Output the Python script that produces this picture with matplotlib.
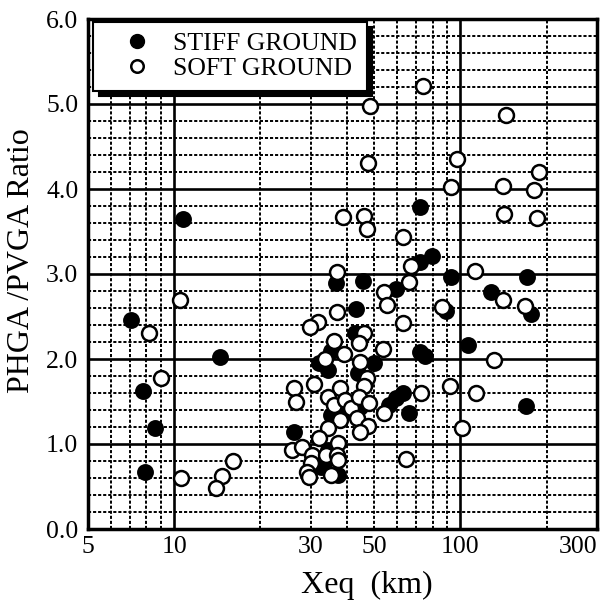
import matplotlib
matplotlib.use("Agg")
import matplotlib.pyplot as plt
from matplotlib.lines import Line2D

plt.rcParams['font.family'] = ['Liberation Serif', 'DejaVu Serif']

stiff_x = [10.7, 7.08, 14.4, 7.8, 8.6, 7.9, 26.2, 72, 79.3, 72, 36.7, 45.6, 93, 171,
           59.4, 128, 89, 177, 43.2, 42.8, 106.7, 72, 75, 35.3, 32, 34.6, 49.8, 44,
           63.2, 59.4, 56.1, 66, 170, 44.7, 43, 35.3, 38.5, 32.5, 37.5, 34.6, 33.3]
stiff_y = [3.65, 2.46, 2.02, 1.62, 1.19, 0.67, 1.14, 3.79, 3.21, 3.14, 2.89, 2.92, 2.96, 2.96,
           2.82, 2.79, 2.56, 2.53, 2.59, 2.31, 2.16, 2.08, 2.04, 2.10, 1.95, 1.87, 1.95, 1.84,
           1.60, 1.54, 1.46, 1.37, 1.45, 1.44, 1.34, 1.34, 1.37, 0.73, 0.64, 0.93, 0.78]

soft_x = [10.5, 8.2, 9.0, 10.6, 16.1, 14.7, 14.0, 26.2, 26.6, 25.8, 74.3, 48.5, 144.6, 47.4,
          96.9, 188, 93, 141, 181, 38.8, 45.9, 47, 142, 185, 62.8, 67, 37, 112, 66, 54,
          141, 55.2, 86, 168, 37.0, 31.8, 29.8, 63, 45.9, 36.1, 44.1, 53.5, 131, 39.1,
          33.6, 44.7, 47, 30.7, 37.9, 45.9, 72.6, 92.2, 113.7, 34.6, 36.1, 39.6, 41.4,
          44.1, 47.8, 54, 43.5, 47.4, 44.7, 38.1, 34.6, 32, 37.5, 101.6, 64.4, 27.9,
          30.2, 33.9, 37, 30, 29, 29.5, 35.3, 37.5]
soft_y = [2.70, 2.31, 1.78, 0.60, 0.80, 0.62, 0.48, 1.66, 1.50, 0.93, 5.21, 4.98, 4.87, 4.31,
          4.35, 4.20, 4.02, 4.04, 3.99, 3.67, 3.68, 3.53, 3.71, 3.66, 3.44, 3.09, 3.02, 3.04, 2.91, 2.79,
          2.70, 2.64, 2.61, 2.62, 2.55, 2.44, 2.38, 2.42, 2.31, 2.21, 2.19, 2.12, 1.99, 2.06,
          2.00, 1.96, 1.78, 1.71, 1.66, 1.68, 1.60, 1.68, 1.60, 1.55, 1.46, 1.52, 1.42,
          1.55, 1.48, 1.36, 1.31, 1.21, 1.14, 1.28, 1.19, 1.07, 1.01, 1.19, 0.82, 0.96,
          0.87, 0.87, 0.87, 0.78, 0.67, 0.61, 0.64, 0.81]

x_ticks = [5, 10, 30, 50, 100, 300]
x_ticklabels = ['5', '10', '30', '50', '100', '300']
y_ticks = [0, 1, 2, 3, 4, 5, 6]
y_ticklabels = ['0.0', '1.0', '2.0', '3.0', '4.0', '5.0', '6.0']
series_labels = ['STIFF GROUND', 'SOFT GROUND']

fig = plt.figure(figsize=(6.04, 6.04), dpi=100)
ax = fig.add_axes([88/604, 75/604, 509/604, 510/604])
ax.set_xscale('log')
ax.set_xlim(5, 300)
ax.set_ylim(0, 6)

# grid
dot = (0, (1.6, 1.0))
for v in [6, 7, 8, 9, 20, 30, 40, 50, 60, 70, 80, 90, 200]:
    ax.axvline(v, color='black', lw=1.4, ls=dot, zorder=1)
for v in [10, 100]:
    ax.axvline(v, color='black', lw=1.9, zorder=1)
for i in range(30):
    v = i * 0.2
    if i % 5 == 0:
        ax.axhline(v, color='black', lw=1.9, zorder=1)
    else:
        ax.axhline(v, color='black', lw=1.4, ls=dot, zorder=1)

ax.scatter(stiff_x, stiff_y, s=120, c='black', edgecolors='black', linewidths=1.2, zorder=3)
ax.scatter(soft_x, soft_y, s=115, c='white', edgecolors='black', linewidths=1.8, zorder=4)

ax.set_xticks(x_ticks)
ax.set_xticklabels(x_ticklabels)
ax.xaxis.set_minor_locator(matplotlib.ticker.NullLocator())
ax.set_yticks(y_ticks)
ax.set_yticklabels(y_ticklabels)
ax.tick_params(axis='both', labelsize=18.5, length=0)
ax.tick_params(axis='x', pad=5)
ax.tick_params(axis='y', pad=7)
for lab in ax.get_xticklabels():
    if lab.get_text() == '300':
        lab.set_horizontalalignment('right')

for s in ax.spines.values():
    s.set_linewidth(2.5)

ax.set_xlabel('Xeq  (km)', fontsize=23)
ax.xaxis.set_label_coords(0.548, -0.082)
ax.xaxis.label.set_verticalalignment('top')
ax.set_ylabel('PHGA /PVGA Ratio', fontsize=23)
ax.yaxis.set_label_coords(-0.102, 0.527)

handles = [Line2D([], [], ls='none', marker='o', ms=10, mfc='black', mec='black'),
           Line2D([], [], ls='none', marker='o', ms=9, mfc='white', mec='black', mew=1.8)]
leg = ax.legend(handles, series_labels, loc='upper left', bbox_to_anchor=(0.01, 0.995),
                borderaxespad=0, fontsize=18.5, frameon=True, fancybox=False,
                handletextpad=0.1, handlelength=2.6, borderpad=0.4, labelspacing=0.1,
                shadow={'ox': 4, 'oy': -4, 'facecolor': 'black', 'edgecolor': 'black', 'alpha': 1})
leg.get_frame().set_edgecolor('black')
leg.get_frame().set_linewidth(1.5)
leg.get_frame().set_alpha(1)
leg.set_zorder(10)

fig.savefig('out.png', dpi=100)
